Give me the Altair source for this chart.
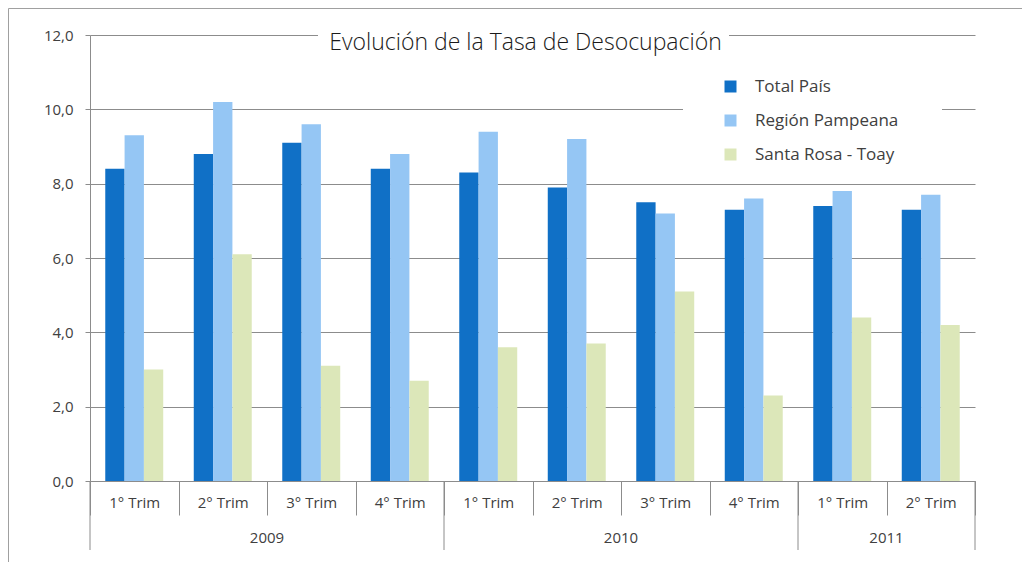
import altair as alt
import pandas as pd

years = ["2009", "2009", "2009", "2009", "2010", "2010", "2010", "2010", "2011", "2011"]
quarters = ["1° Trim", "2° Trim", "3° Trim", "4° Trim", "1° Trim", "2° Trim",
            "3° Trim", "4° Trim", "1° Trim", "2° Trim"]
series = ["Total País", "Región Pampeana", "Santa Rosa - Toay"]
total_pais = [8.4, 8.8, 9.1, 8.4, 8.3, 7.9, 7.5, 7.3, 7.4, 7.3]
region_pampeana = [9.3, 10.2, 9.6, 8.8, 9.4, 9.2, 7.2, 7.6, 7.8, 7.7]
santa_rosa = [3.0, 6.1, 3.1, 2.7, 3.6, 3.7, 5.1, 2.3, 4.4, 4.2]
colors = ["#1070C6", "#95C6F4", "#DCE7B9"]
y_ticks = [0, 2, 4, 6, 8, 10, 12]
title_text = "Evolución de la Tasa de Desocupación"

FONT = "Open Sans"
TXT = "#404040"
LINE = "#8C8C8C"

keys = [f"{y}|{q}" for y, q in zip(years, quarters)]
rows = []
for name, vals in zip(series, [total_pais, region_pampeana, santa_rosa]):
    for k, v in zip(keys, vals):
        rows.append({"key": k, "series": name, "value": v})
df = pd.DataFrame(rows)

# year helpers derived from the category lists
year_order = []
for y in years:
    if y not in year_order:
        year_order.append(y)
year_start = []
year_mid = []
for y in year_order:
    ks = [k for k, yy in zip(keys, years) if yy == y]
    year_start.append({"key": ks[0]})
    year_mid.append({"key": ks[len(ks) // 2], "year": y})
year_end = [{"key": keys[-1]}]

W, H = 885, 446
xscale = alt.Scale(type="band", domain=keys, paddingInner=0, paddingOuter=0)

bars = alt.Chart(df).mark_bar().encode(
    x=alt.X("key:N", scale=xscale, sort=keys, title=None,
            axis=alt.Axis(labelExpr="split(datum.label, '|')[1]", labelAngle=0,
                          tickBand="extent", tickSize=34, labelPadding=-20,
                          labelFontSize=15, labelFont=FONT, labelColor=TXT,
                          domainColor=LINE, tickColor=LINE, grid=False)),
    xOffset=alt.XOffset("series:N", sort=series,
                        scale=alt.Scale(domain=series, paddingOuter=0.79, paddingInner=0)),
    y=alt.Y("value:Q", scale=alt.Scale(domain=[0, 12], nice=False), title=None,
            axis=alt.Axis(values=y_ticks, labelExpr="replace(format(datum.value, '.1f'), '.', ',')",
                          labelFontSize=15, labelFont=FONT, labelColor=TXT, labelPadding=12,
                          tickSize=5, tickColor=LINE, domainColor=LINE,
                          gridColor=LINE, gridWidth=1, gridOpacity=1)),
    color=alt.Color("series:N", scale=alt.Scale(domain=series, range=colors), sort=series,
                    legend=alt.Legend(title=None, orient="none", legendX=632, legendY=43,
                                      symbolType="square", symbolSize=144, symbolStrokeWidth=0,
                                      labelFontSize=17, labelFont=FONT, labelColor=TXT,
                                      labelOffset=16, rowPadding=16, padding=0)),
)

year_rules = alt.Chart(alt.Data(values=year_start)).mark_rule(color=LINE, strokeWidth=1).encode(
    x=alt.X("key:N", scale=xscale, bandPosition=0),
    y=alt.value(H), y2=alt.value(H + 69),
)
end_rule = alt.Chart(alt.Data(values=year_end)).mark_rule(color=LINE, strokeWidth=1).encode(
    x=alt.X("key:N", scale=xscale, bandPosition=1),
    y=alt.value(H), y2=alt.value(H + 69),
)
year_labels = alt.Chart(alt.Data(values=year_mid)).mark_text(
    font=FONT, fontSize=15, color=TXT, baseline="middle", align="center"
).encode(
    x=alt.X("key:N", scale=xscale, bandPosition=0),
    y=alt.value(H + 57),
    text="year:N",
)

one = alt.Data(values=[{}])
title_box = alt.Chart(one).mark_rect(color="white").encode(
    x=alt.value(228), x2=alt.value(639), y=alt.value(-10), y2=alt.value(10))
legend_box = alt.Chart(one).mark_rect(color="white").encode(
    x=alt.value(593), x2=alt.value(852), y=alt.value(25), y2=alt.value(135))
title = alt.Chart(one).mark_text(
    text=title_text, font=FONT, fontSize=23, fontWeight=300, color="#1a1a1a",
    align="center", baseline="alphabetic"
).encode(x=alt.value(435.5), y=alt.value(15))

border_left = alt.Chart(one).mark_rule(color="#A0A0A0", strokeWidth=1).encode(
    x=alt.value(-81.5), y=alt.value(-26.5), y2=alt.value(H + 81))
border_top = alt.Chart(one).mark_rule(color="#A0A0A0", strokeWidth=1).encode(
    x=alt.value(-81.5), x2=alt.value(W + 47), y=alt.value(-26.5))

chart = alt.layer(
    bars, year_rules, end_rule, year_labels, title_box, legend_box, title,
    border_left, border_top
).properties(
    width=W, height=H,
    padding={"left": 82, "top": 27, "right": 47, "bottom": 81},
    autosize=alt.AutoSizeParams(type="none"),
).configure_view(stroke=None)

chart.save("out.html", embed_options={"renderer": "svg", "actions": False})
